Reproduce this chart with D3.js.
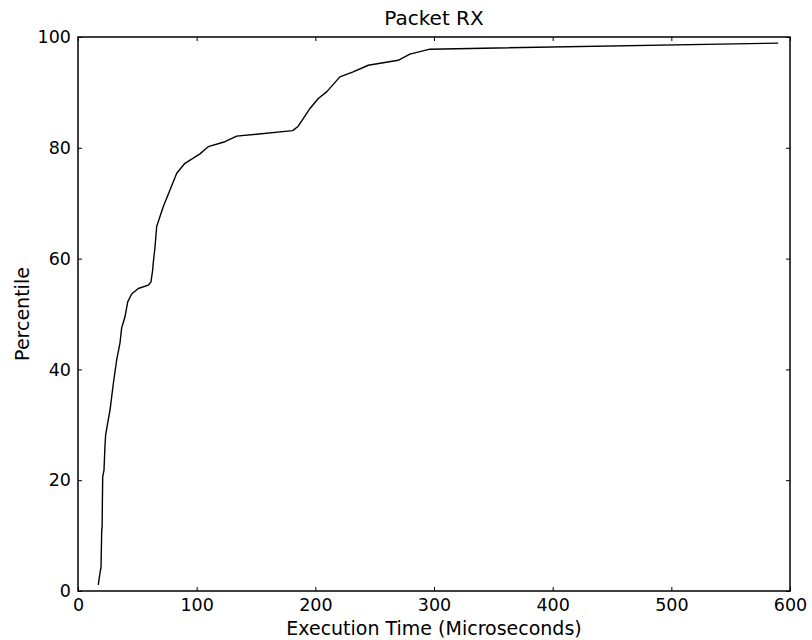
<!DOCTYPE html>
<html>
<head>
<meta charset="utf-8">
<script src="https://cdn.jsdelivr.net/npm/d3@7"></script>
<style>
  html, body { margin: 0; padding: 0; background: #fff; }
  svg { display: block; font-family: "DejaVu Sans", sans-serif; }
</style>
</head>
<body>
<svg id="chart" width="812" height="640"></svg>
<script>
// Execution time (microseconds) and percentile
const execTime = [17.1, 18.5, 19.4, 20.0, 20.3, 20.8, 21.9, 22.7, 23.3, 25.0, 27.0, 29.8, 32.6, 35.4, 36.8, 39.6, 41.9, 45.2, 50.8, 59.2, 61.5, 62.9, 63.4, 64.9, 66.3, 69.1, 71.9, 77.5, 83.2, 90.1, 102.8, 106.0, 109.8, 123.8, 133.7, 180.9, 185.6, 195.5, 202.5, 209.5, 220.7, 231.9, 244.6, 269.8, 279.7, 296.5, 590.0];
const percentile = [1.1, 3.2, 4.3, 11.0, 11.5, 20.6, 21.8, 26.0, 28.2, 30.3, 32.7, 37.5, 41.7, 44.8, 47.5, 49.5, 52.2, 53.6, 54.6, 55.2, 55.8, 57.9, 59.2, 62.1, 65.8, 67.6, 69.4, 72.4, 75.4, 77.2, 78.9, 79.5, 80.2, 81.1, 82.1, 83.1, 83.9, 87.1, 88.9, 90.1, 92.8, 93.7, 94.9, 95.8, 96.9, 97.8, 98.9];
const xTicks = [0, 100, 200, 300, 400, 500, 600];
const yTicks = [0, 20, 40, 60, 80, 100];
const titleText = "Packet RX";
const xLabel = "Execution Time (Microseconds)";
const yLabel = "Percentile";

const points = execTime.map((t, i) => ({ x: t, y: percentile[i] }));

const svg = d3.select("#chart");
const m = { left: 78, right: 812 - 790, top: 37, bottom: 640 - 591 };
const W = 812 - m.left - m.right;
const H = 640 - m.top - m.bottom;

const x = d3.scaleLinear().domain([0, 600]).range([0, W]);
const y = d3.scaleLinear().domain([0, 100]).range([H, 0]);

const g = svg.append("g").attr("transform", `translate(${m.left},${m.top})`);

// curve
const line = d3.line().x(d => x(d.x)).y(d => y(d.y));
g.append("path")
  .datum(points)
  .attr("fill", "none")
  .attr("stroke", "#000")
  .attr("stroke-width", 1.4)
  .attr("stroke-linejoin", "round")
  .attr("d", line);

// axes (ticks pointing inward, on all four sides)
const fs = 17.5;
const axB = g.append("g").attr("transform", `translate(0,${H})`)
  .call(d3.axisBottom(x).tickValues(xTicks).tickSizeInner(-4).tickSizeOuter(0).tickPadding(7.5).tickFormat(d3.format("d")));
const axT = g.append("g")
  .call(d3.axisTop(x).tickValues(xTicks).tickSizeInner(-4).tickSizeOuter(0).tickFormat(""));
const axL = g.append("g")
  .call(d3.axisLeft(y).tickValues(yTicks).tickSizeInner(-4).tickSizeOuter(0).tickPadding(7).tickFormat(d3.format("d")));
const axR = g.append("g").attr("transform", `translate(${W},0)`)
  .call(d3.axisRight(y).tickValues(yTicks).tickSizeInner(-4).tickSizeOuter(0).tickFormat(""));

[axB, axT, axL, axR].forEach(a => {
  a.select(".domain").remove();
  a.selectAll("line").attr("stroke", "#000").attr("stroke-width", 1);
  a.selectAll("text").attr("font-size", fs).attr("fill", "#000").attr("font-family", "DejaVu Sans");
});

// frame
g.append("rect")
  .attr("x", 0).attr("y", 0).attr("width", W).attr("height", H)
  .attr("fill", "none").attr("stroke", "#000").attr("stroke-width", 1.5);

// title & labels
svg.append("text")
  .attr("x", m.left + W / 2).attr("y", 25)
  .attr("text-anchor", "middle").attr("font-size", 20)
  .text(titleText);
svg.append("text")
  .attr("x", m.left + W / 2).attr("y", 635)
  .attr("text-anchor", "middle").attr("font-size", 19)
  .text(xLabel);
svg.append("text")
  .attr("transform", `translate(29,${m.top + H / 2}) rotate(-90)`)
  .attr("text-anchor", "middle").attr("font-size", 19)
  .text(yLabel);
</script>
</body>
</html>
